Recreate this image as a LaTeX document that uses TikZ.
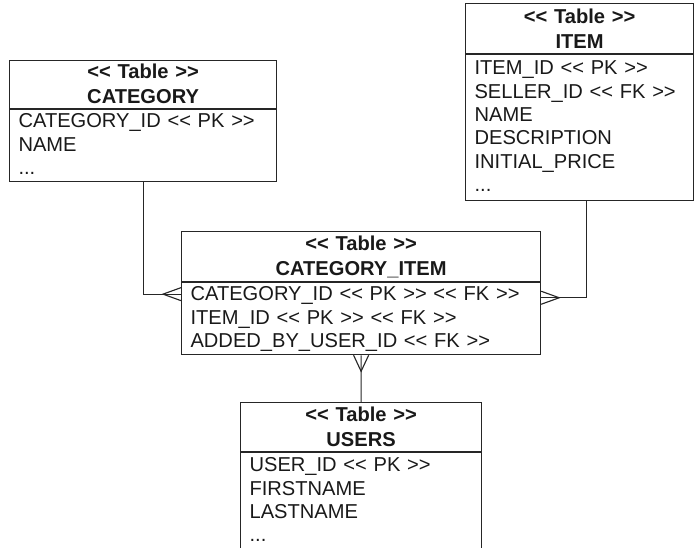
\documentclass[tikz,border=0pt]{standalone}
\usepackage{fontspec}
\setmainfont{Liberation Sans}[Ligatures=TeXOff]
\usetikzlibrary{shapes,arrows}
\tikzstyle{tablehead} = [draw, rectangle, anchor=north west, align=center, inner sep=0pt, font=\bfseries\fontsize{14.3}{17.8}\selectfont]
\tikzstyle{tablebody} = [draw, rectangle, anchor=north, align=left, inner xsep=0.225cm, inner ysep=0pt, font=\fontsize{14.3}{16.6}\selectfont]
\tikzstyle{link} = [draw]

\begin{document}
\begin{tikzpicture}[x=0.025cm, y=-0.025cm, line width=0.8pt, draw=black!85, text=black!90]
    \useasboundingbox (0,0) rectangle (695,547);
    \clip (0,0) rectangle (695,547);

    % Drawing tables
    \node [tablehead, text width=6.675cm, text height=0.45cm, text depth=0.75cm] (cathead) at (9,60)
        {<< Table >>\\CATEGORY};
    \node [tablebody, text width=6.225cm, text height=0.45cm, text depth=1.35cm] (catbody) at (cathead.south)
        {CATEGORY\_ID << PK >>\\NAME\\...};

    \node [tablehead, text width=5.7cm, text height=0.5cm, text depth=0.75cm] (itemhead) at (465,3)
        {<< Table >>\\ITEM};
    \node [tablebody, text width=5.25cm, text height=0.5cm, text depth=3.15cm] (itembody) at (itemhead.south)
        {ITEM\_ID << PK >>\\SELLER\_ID << FK >>\\NAME\\DESCRIPTION\\INITIAL\_PRICE\\...};

    \node [tablehead, text width=8.975cm, text height=0.475cm, text depth=0.775cm] (catitemhead) at (181,231)
        {<< Table >>\\CATEGORY\_ITEM};
    \node [tablebody, text width=8.525cm, text height=0.45cm, text depth=1.35cm] (catitembody) at (catitemhead.south)
        {CATEGORY\_ID << PK >> << FK >>\\ITEM\_ID << PK >> << FK >>\\ADDED\_BY\_USER\_ID << FK >>};

    \node [tablehead, text width=6.025cm, text height=0.475cm, text depth=0.75cm] (usershead) at (240,402)
        {<< Table >>\\USERS};
    \node [tablebody, text width=5.575cm, text height=0.475cm, text depth=3cm] (usersbody) at (usershead.south)
        {USER\_ID << PK >>\\FIRSTNAME\\LASTNAME\\...};

    % Connectors
    \coordinate (catend) at ([yshift=-0.3cm]catitembody.north west);
    \coordinate (itemend) at ([yshift=-0.39cm]catitembody.north east);
    \draw [link] (catbody.south) |- (catend);
    \draw [link] ([xshift=0.175cm]itembody.south) |- (itemend);
    \draw [link] (catitembody.south) -- (usershead.north);

    % Crow's feet
    \draw (catend) ++(0,-6.5) -- ++(-18,6.5) -- ++(18,6.5);
    \draw (itemend) ++(0,-6.5) -- ++(18,6.5) -- ++(-18,6.5);
    \draw (catitembody.south) ++(-7.5,0) -- ++(7.5,16) -- ++(7.5,-16);
\end{tikzpicture}
\end{document}
